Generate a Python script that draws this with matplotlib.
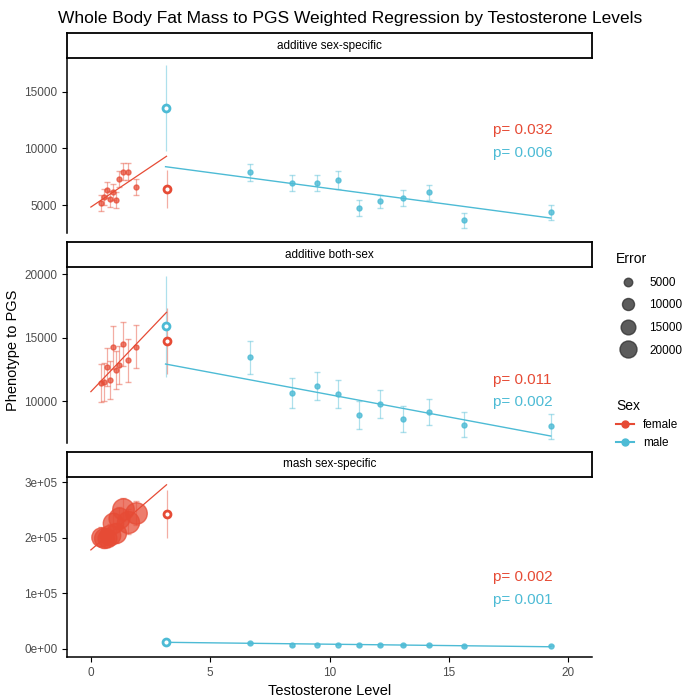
import numpy as np
import matplotlib
matplotlib.use("Agg")
import matplotlib.pyplot as plt
from matplotlib.lines import Line2D

plt.rcParams['font.family'] = ['Liberation Sans', 'DejaVu Sans']

RED = '#E64B35'
BLUE = '#4DBBD5'

panels = ["additive sex-specific", "additive both-sex", "mash sex-specific"]
fx = [0.41, 0.57, 0.67, 0.80, 0.92, 1.05, 1.16, 1.33, 1.54, 1.90]
mx = [6.68, 8.41, 9.46, 10.36, 11.25, 12.10, 13.07, 14.16, 15.65, 19.27]
open_x = 3.15

f_y = [
    [5180, 5680, 6320, 5560, 6180, 5440, 7320, 7940, 7940, 6620],
    [11420, 11520, 12680, 11680, 14260, 12470, 12840, 14500, 13210, 14290],
    [202000, 200000, 199000, 205000, 226000, 208000, 235000, 251000, 229000, 244000],
]
f_err = [
    [700, 700, 700, 700, 700, 700, 700, 750, 750, 700],
    [1500, 1500, 1500, 1500, 1700, 1500, 1500, 1700, 1700, 1700],
    [17000, 18000, 16000, 19000, 19000, 18000, 20000, 21000, 22000, 21000],
]
m_y = [
    [7910, 6910, 6910, 7180, 4700, 5320, 5590, 6120, 3650, 4360],
    [13470, 10630, 11180, 10550, 8900, 9760, 8580, 9130, 8130, 8000],
    [10200, 7000, 8000, 8000, 7000, 7000, 7000, 7000, 5500, 6000],
]
m_err = [
    [750, 700, 700, 800, 700, 600, 700, 650, 650, 650],
    [1300, 1200, 1100, 1100, 1100, 1100, 1000, 1000, 1000, 1000],
    [1500, 1200, 1200, 1200, 1200, 1200, 1200, 1200, 1200, 1200],
]
f_open = [(6410, 1700), (14740, 2600), (243000, 43000)]
m_open = [(13530, 3800), (15900, 4000), (12000, 2000)]
# fitted lines: (x0, y0, x1, y1)
f_fit = [(0.0, 4820, 3.17, 9300), (0.0, 10740, 3.17, 17000), (0.0, 178000, 3.17, 295000)]
m_fit = [(3.13, 8380, 19.27, 3850), (3.13, 12920, 19.27, 7240), (3.13, 12000, 19.27, 4000)]
pvals_f = ["p= 0.032", "p= 0.011", "p= 0.002"]
pvals_m = ["p= 0.006", "p= 0.002", "p= 0.001"]
ylims = [(2530, 17970), (6690, 20576), (-14400, 309000)]
yticks = [[5000, 10000, 15000], [10000, 15000, 20000], [0, 100000, 200000, 300000]]
yticklabels = [["5000", "10000", "15000"], ["10000", "15000", "20000"],
               ["0e+00", "1e+05", "2e+05", "3e+05"]]
ptext_y = [(11600, 9600), (11700, 9900), (130000, 88000)]

def msize(e, k=16):
    d = max(5.0, np.sqrt(e / 20000.0) * k)
    return d * 0.72  # px -> points at 100 dpi

fig = plt.figure(figsize=(7, 7), dpi=100)
L, W = 67/700, 525/700
rects = [(58, 233, 33), (267, 443, 242), (477, 657, 452)]
for i, (top, bot, stop) in enumerate(rects):
    ax = fig.add_axes([L, 1 - bot/700, W, (bot - top)/700])
    sx = fig.add_axes([L, 1 - top/700, W, (top - stop)/700])
    sx.set_xticks([]); sx.set_yticks([])
    for s in sx.spines.values():
        s.set_linewidth(1.3)
    sx.text(0.5, 0.5, panels[i], ha='center', va='center', fontsize=8.5, transform=sx.transAxes)

    k = 21 if i == 2 else 17
    for x, y, e in zip(fx, f_y[i], f_err[i]):
        ax.errorbar(x, y, yerr=e, fmt='none', ecolor=RED, alpha=0.45, capsize=2, elinewidth=0.9)
        ax.plot(x, y, 'o', color=RED, alpha=0.72, ms=msize(e, k), mec=RED, zorder=3)
    for x, y, e in zip(mx, m_y[i], m_err[i]):
        ax.errorbar(x, y, yerr=e, fmt='none', ecolor=BLUE, alpha=0.45, capsize=2, elinewidth=0.9)
        ax.plot(x, y, 'o', color=BLUE, alpha=0.8, ms=msize(e), zorder=3)
    fo, fe = f_open[i]
    mo, me = m_open[i]
    ax.errorbar(open_x + 0.02, fo, yerr=fe, fmt='none', ecolor=RED, alpha=0.45, elinewidth=0.9)
    ax.errorbar(open_x - 0.02, mo, yerr=me, fmt='none', ecolor=BLUE, alpha=0.45, elinewidth=0.9)
    ax.plot(open_x + 0.02, fo, 'o', mfc='white', mec=RED, mew=2, ms=5, zorder=4)
    ax.plot(open_x - 0.02, mo, 'o', mfc='white', mec=BLUE, mew=2, ms=5, zorder=4)
    x0, y0, x1, y1 = f_fit[i]
    ax.plot([x0, x1], [y0, y1], color=RED, lw=0.9)
    x0, y0, x1, y1 = m_fit[i]
    ax.plot([x0, x1], [y0, y1], color=BLUE, lw=1.0)
    ax.text(16.85, ptext_y[i][0], pvals_f[i], color=RED, fontsize=11, va='center')
    ax.text(16.85, ptext_y[i][1], pvals_m[i], color=BLUE, fontsize=11, va='center')

    ax.set_xlim(-1.0, 21.0)
    ax.set_ylim(*ylims[i])
    ax.set_yticks(yticks[i])
    ax.set_yticklabels(yticklabels[i], fontsize=8.5, color='#4D4D4D')
    for s in ['top', 'right']:
        ax.spines[s].set_visible(False)
    ax.spines['left'].set_linewidth(1.1)
    if i < 2:
        ax.spines['bottom'].set_visible(False)
        ax.set_xticks([])
    else:
        ax.spines['bottom'].set_linewidth(1.1)
        ax.set_xticks([0, 5, 10, 15, 20])
        ax.set_xticklabels(["0", "5", "10", "15", "20"], fontsize=8.5, color='#4D4D4D')
        ax.set_xlabel("Testosterone Level", fontsize=10.5)

fig.text(0.5 * (L + L + W) + 0.03, 0.985, "Whole Body Fat Mass to PGS Weighted Regression by Testosterone Levels",
         ha='center', va='top', fontsize=12.5)
fig.text(0.018, 0.5, "Phenotype to PGS", rotation=90, va='center', ha='center', fontsize=10.5)

# legends
err_levels = [5000, 10000, 15000, 20000]
h1 = [Line2D([], [], ls='none', marker='o', color='#333333', alpha=0.8, ms=msize(e, 17)) for e in err_levels]
fig.legend(h1, [str(e) for e in err_levels], title="Error", loc='upper left',
           bbox_to_anchor=(0.865, 0.655), frameon=False, fontsize=8.5,
           title_fontsize=10, alignment='left', labelspacing=0.9)
h2 = [Line2D([], [], color=RED, marker='o', ms=5), Line2D([], [], color=BLUE, marker='o', ms=5)]
fig.legend(h2, ["female", "male"], title="Sex", loc='upper left',
           bbox_to_anchor=(0.865, 0.445), frameon=False, fontsize=8.5,
           title_fontsize=10, alignment='left', handlelength=1.5)

fig.savefig("out.png", dpi=100)
